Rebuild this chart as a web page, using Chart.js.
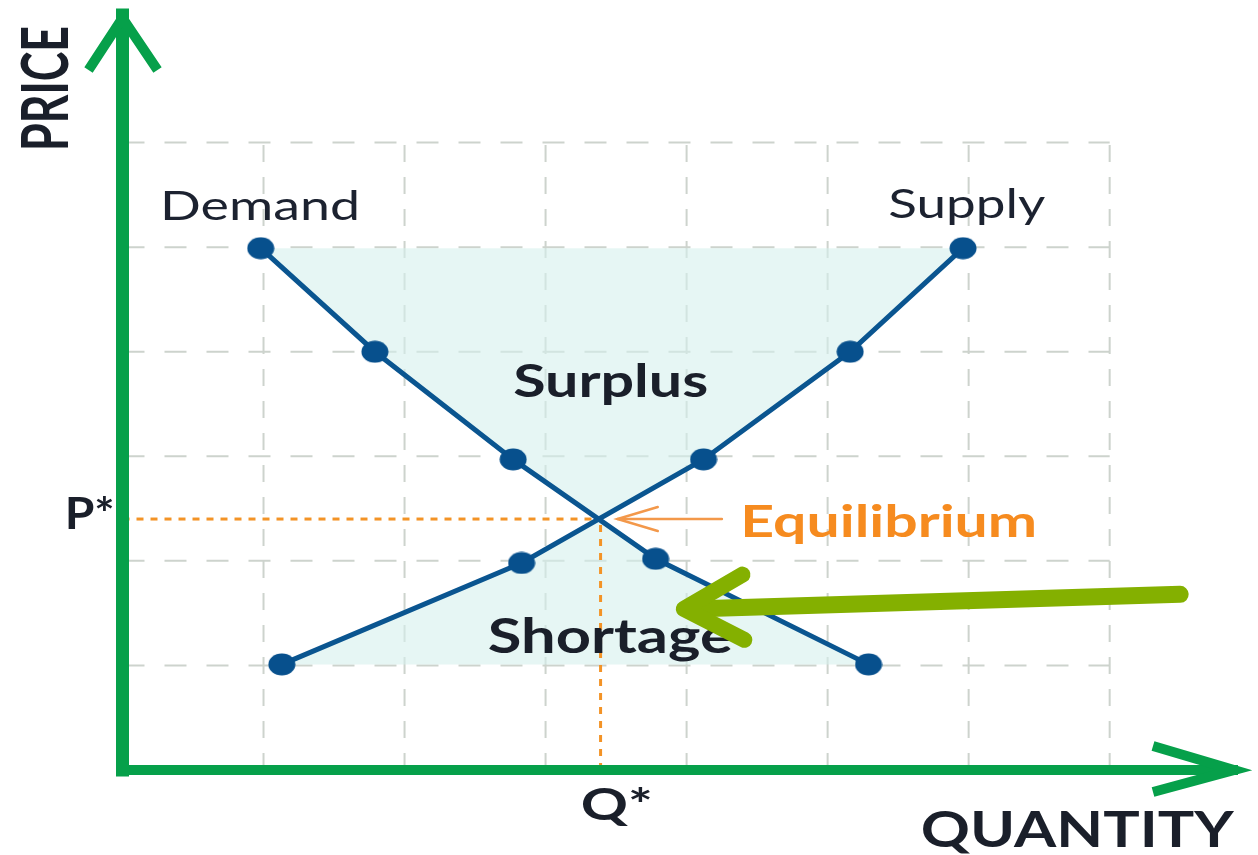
<!DOCTYPE html>
<html><head><meta charset="utf-8">
<script src="https://cdn.jsdelivr.net/npm/chart.js@4.4.1/dist/chart.umd.min.js"></script>
<style>html,body{margin:0;padding:0;background:#fff;overflow:hidden}canvas{display:block}</style>
</head><body>
<canvas id="c" width="1258" height="855"></canvas>
<script>
// ---- data (quantity / price units) ----
const demandQ = [0.98, 1.79, 2.77, 3.78, 5.29];
const demandP = [4.99, 4.00, 2.97, 2.02, 1.01];
const supplyQ = [1.13, 2.83, 4.12, 5.16, 5.96];
const supplyP = [1.01, 1.98, 2.97, 4.00, 4.99];
const eqQ = 3.39;
const eqP = 2.40;
const gridQ = [1, 2, 3, 4, 5, 6, 7];
const gridP = [1, 2, 3, 4, 5, 6];
const axisMaxQ = 7.91;
const axisMaxP = 7.22;
const calloutFrom = [7.50, 1.68];
const calloutTo = [3.98, 1.54];
const eqArrowFrom = [4.25, eqP];
const eqArrowTo = [3.51, eqP];

const pts = (qs, ps) => qs.map((q, i) => ({x: q, y: ps[i]}));
const demand = pts(demandQ, demandP);
const supply = pts(supplyQ, supplyP);
const eq = {x: eqQ, y: eqP};

const surplus = [eq]
  .concat(demand.filter(p => p.y > eqP).reverse())
  .concat(supply.filter(p => p.y > eqP).reverse())
  .concat([eq]);
const shortage = [eq]
  .concat(supply.filter(p => p.y < eqP).reverse())
  .concat(demand.filter(p => p.y < eqP).reverse())
  .concat([eq]);

function dot() {
  const c = document.createElement('canvas');
  c.width = 28; c.height = 23;
  const g = c.getContext('2d');
  g.fillStyle = '#07508d';
  g.beginPath(); g.ellipse(14, 11.5, 13.5, 11, 0, 0, Math.PI * 2); g.fill();
  return c;
}
const dotImg = dot();

const GRID = '#cdd3cd';
const datasets = [];
gridQ.forEach(q => datasets.push({
  data: [{x: q, y: 0}, {x: q, y: gridP[gridP.length - 1]}],
  borderColor: GRID, borderWidth: 2, borderDash: [17, 15], pointRadius: 0, order: 20, clip: false
}));
gridP.forEach(p => datasets.push({
  data: [{x: 0, y: p}, {x: gridQ[gridQ.length - 1], y: p}],
  borderColor: GRID, borderWidth: 2, borderDash: [22, 20], pointRadius: 0, order: 20, clip: false
}));
[surplus, shortage].forEach(poly => datasets.push({
  data: poly, fill: 'shape', backgroundColor: 'rgba(214,240,236,0.6)',
  borderWidth: 0, borderColor: 'rgba(0,0,0,0)', pointRadius: 0, order: 15, clip: false
}));
datasets.push({
  data: [{x: 0, y: eqP}, {x: eqQ, y: eqP}],
  borderColor: '#f39326', borderWidth: 3, borderDash: [7, 7], pointRadius: 0, order: 12, clip: false
});
datasets.push({
  data: [{x: eqQ, y: 0}, {x: eqQ, y: eqP}],
  borderColor: '#f39326', borderWidth: 3, borderDash: [7, 7], pointRadius: 0, order: 12, clip: false
});
[demand, supply].forEach(d => datasets.push({
  data: d, borderColor: '#0a5590', borderWidth: 5, tension: 0,
  pointStyle: dotImg, pointRadius: 10, order: 5, clip: false
}));
datasets.push({
  data: [{x: 0, y: 0}, {x: 0, y: axisMaxP}],
  borderColor: '#06a04a', borderWidth: 13, borderCapStyle: 'square', pointRadius: 0, order: 3, clip: false
});
datasets.push({
  data: [{x: 0, y: 0}, {x: axisMaxQ, y: 0}],
  borderColor: '#06a04a', borderWidth: 10, borderCapStyle: 'butt', pointRadius: 0, order: 3, clip: false
});

const labels = [
  {text: 'Demand', q: 0.266, p: 5.26, w: 200, size: 41, weight: 400, color: '#1c2230'},
  {text: 'Supply', q: 5.43, p: 5.28, w: 157, size: 40, weight: 400, color: '#1c2230'},
  {text: 'Surplus', q: 2.77, p: 3.57, w: 195, size: 46, weight: 700, color: '#1a1f2a'},
  {text: 'Shortage', q: 2.59, p: 1.12, w: 245, size: 47, weight: 700, color: '#1a1f2a'},
  {text: 'Equilibrium', q: 4.38, p: 2.23, w: 297, size: 44, weight: 700, color: '#f68b1f'},
  {text: 'P*', q: -0.41, p: 2.30, w: 50, size: 44, weight: 700, color: '#1a1f2a'},
  {text: 'Q*', q: 3.25, p: -0.48, w: 72, size: 44, weight: 700, color: '#1a1f2a'},
  {text: 'PRICE', q: -0.39, p: 5.92, w: 125, size: 65, weight: 700, color: '#1a1f2a', rotate: true},
  {text: 'QUANTITY', q: 5.66, p: -0.74, w: 313, size: 49, weight: 700, color: '#1a1f2a'}
];

function arrowLines(ctx, tx, ty, fx, fy, len, ang) {
  const a = Math.atan2(fy - ty, fx - tx);
  ctx.beginPath();
  ctx.moveTo(tx + len * Math.cos(a - ang), ty + len * Math.sin(a - ang));
  ctx.lineTo(tx, ty);
  ctx.lineTo(tx + len * Math.cos(a + ang), ty + len * Math.sin(a + ang));
  ctx.stroke();
}

const deco = {
  id: 'deco',
  afterDatasetsDraw(chart) {
    const {ctx, scales: {x, y}} = chart;
    const X = v => x.getPixelForValue(v), Y = v => y.getPixelForValue(v);
    ctx.save();
    // axis arrowheads
    ctx.strokeStyle = '#06a04a'; ctx.lineWidth = 10; ctx.lineJoin = 'miter'; ctx.lineCap = 'butt';
    const ytx = X(0), yty = Y(axisMaxP);
    ctx.beginPath(); ctx.moveTo(ytx - 34, yty + 55); ctx.lineTo(ytx, yty + 3); ctx.lineTo(ytx + 35, yty + 55); ctx.stroke();
    const xtx = X(axisMaxQ), xty = Y(0);
    ctx.beginPath(); ctx.moveTo(xtx - 85, xty - 24); ctx.lineTo(xtx - 4, xty); ctx.lineTo(xtx - 85, xty + 22); ctx.stroke();
    // equilibrium pointer
    ctx.strokeStyle = '#f3984a'; ctx.lineWidth = 2.5; ctx.lineCap = 'round';
    const e0x = X(eqArrowFrom[0]), e0y = Y(eqArrowFrom[1]), e1x = X(eqArrowTo[0]), e1y = Y(eqArrowTo[1]);
    ctx.beginPath(); ctx.moveTo(e0x, e0y); ctx.lineTo(e1x, e1y); ctx.stroke();
    arrowLines(ctx, e1x, e1y, e0x, e0y, 42, 0.29);
    // text
    ctx.textBaseline = 'alphabetic'; ctx.textAlign = 'left';
    labels.forEach(l => {
      ctx.save();
      ctx.font = `${l.weight} ${l.size}px Lato, "Open Sans", sans-serif`;
      ctx.fillStyle = l.color;
      const m = ctx.measureText(l.text).width;
      ctx.translate(X(l.q), Y(l.p));
      if (l.rotate) ctx.rotate(-Math.PI / 2);
      ctx.scale(l.w / m, 1);
      ctx.fillText(l.text, 0, 0);
      ctx.restore();
    });
    // green callout arrow (drawn over the text)
    ctx.strokeStyle = '#84b000'; ctx.lineWidth = 17; ctx.lineCap = 'round'; ctx.lineJoin = 'round';
    const c0x = X(calloutFrom[0]), c0y = Y(calloutFrom[1]), c1x = X(calloutTo[0]), c1y = Y(calloutTo[1]);
    ctx.beginPath(); ctx.moveTo(c0x, c0y); ctx.lineTo(c1x + 8, c1y); ctx.stroke();
    ctx.lineWidth = 16;
    arrowLines(ctx, c1x, c1y, c0x, c0y, 68, 0.5);
    ctx.restore();
  }
};

new Chart(document.getElementById('c'), {
  type: 'line',
  data: {datasets},
  options: {
    responsive: false, animation: false, devicePixelRatio: 1,
    layout: {padding: {left: 122.5, right: 20, top: 7, bottom: 85}},
    scales: {
      x: {type: 'linear', min: 0, max: axisMaxQ, display: false},
      y: {type: 'linear', min: 0, max: axisMaxP, display: false}
    },
    plugins: {legend: {display: false}, tooltip: {enabled: false}},
    elements: {line: {fill: false}}
  },
  plugins: [deco]
});
</script>
</body></html>
